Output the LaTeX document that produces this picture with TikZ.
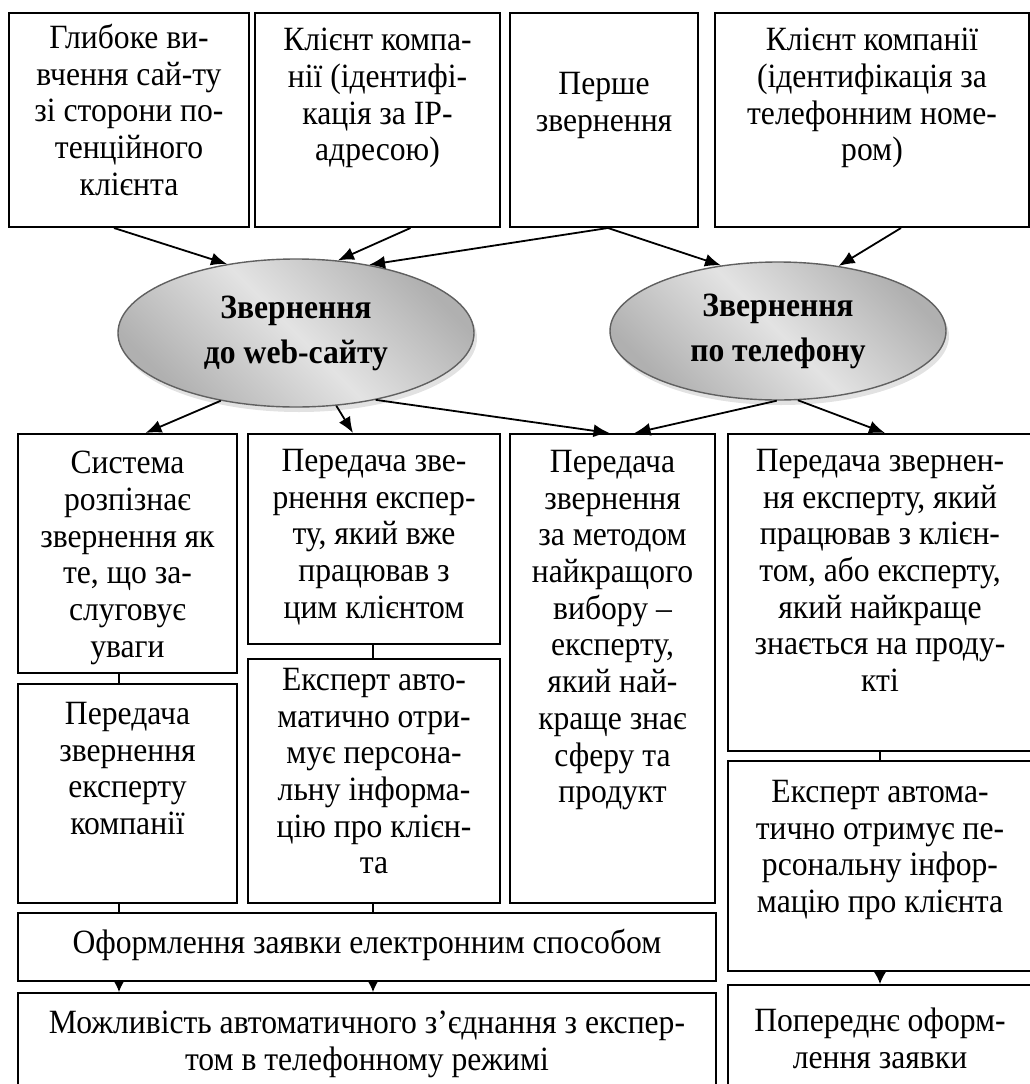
\documentclass[tikz,border=0pt]{standalone}
\usepackage{fontspec}
\setmainfont{Liberation Serif}[FakeStretch=0.93]
\usetikzlibrary{positioning,shapes.geometric,shadows,arrows.meta}

\tikzset{
  blok/.style={draw, line width=2pt, anchor=north west, inner sep=0pt},
  napys/.style={align=center, anchor=north, inner sep=0pt,
    font=\fontsize{34}{36.7}\selectfont, execute at begin node=\strut},
  zvern/.style={ellipse, draw=gray!75!black, line width=1.4pt, inner sep=0pt,
    align=center, font=\bfseries\fontsize{34}{45}\selectfont,
    top color=gray!62, bottom color=gray!62, middle color=gray!22, shading angle=-45,
    drop shadow={shadow xshift=3pt, shadow yshift=-5pt, fill=gray!45}},
  strilka/.style={line width=1.8pt, -{Latex[length=16pt, width=13pt]}},
  strilka mala/.style={line width=1.4pt, -{Latex[length=12pt, width=12pt]}},
  liniya/.style={line width=1.4pt}
}

\begin{document}
\begin{tikzpicture}[x=1pt, y=-1pt]
\useasboundingbox (0,0) rectangle (1030,1084);

% верхній ряд
\node[blok, minimum width=240pt, minimum height=214pt] (v1) at (8,12) {};
\node[blok, minimum width=245pt, minimum height=214pt] (v2) at (254,12) {};
\node[blok, minimum width=188pt, minimum height=214pt] (v3) at (509,12) {};
\node[blok, minimum width=314pt, minimum height=214pt] (v4) at (714,12) {};
\node[napys, below=12pt of v1.north] (v1t) {Глибоке ви-\\вчення сай-ту\\зі сторони по-\\тенційного\\клієнта};
\node[napys, below=16pt of v2.north] (v2t) {Клієнт компа-\\нії (ідентифі-\\кація за IP-\\адресою)};
\node[napys, below=60pt of v3.north] (v3t) {Перше\\звернення};
\node[napys, below=16pt of v4.north] (v4t) {Клієнт компанії\\(ідентифікація за\\телефонним номе-\\ром)};

% звернення
\node[zvern, minimum width=356pt, minimum height=148pt] (web) at (296,333) {Звернення\\до web-сайту};
\node[zvern, minimum width=336pt, minimum height=138pt] (tel) at (778,331) {Звернення\\по телефону};

% другий ряд
\node[blok, minimum width=219pt, minimum height=239pt] (s1) at (17,433) {};
\node[blok, minimum width=252pt, minimum height=210pt] (s2) at (247,433) {};
\node[blok, minimum width=205pt, minimum height=469pt] (s3) at (509,433) {};
\node[blok, minimum width=304pt, minimum height=317pt] (s4) at (727,433) {};
\node[napys, below=18pt of s1.north] (s1t) {Система\\розпізнає\\звернення як\\те, що за-\\слуговує\\уваги};
\node[napys, below=16pt of s2.north] (s2t) {Передача зве-\\рнення експер-\\ту, який вже\\працював з\\цим клієнтом};
\node[napys, below=17pt of s3.north] (s3t) {Передача\\звернення\\за методом\\найкращого\\вибору –\\експерту,\\який най-\\краще знає\\сферу та\\продукт};
\node[napys, below=16pt of s4.north] (s4t) {Передача звернен-\\ня експерту, який\\працював з клієн-\\том, або експерту,\\який найкраще\\знається на проду-\\кті};

% третій ряд
\node[blok, minimum width=219pt, minimum height=219pt] (e1) at (17,683) {};
\node[blok, minimum width=252pt, minimum height=244pt] (e2) at (247,658) {};
\node[blok, minimum width=304pt, minimum height=210pt] (e4) at (727,760) {};
\node[napys, below=19pt of e1.north] (e1t) {Передача\\звернення\\експерту\\компанії};
\node[napys, below=10pt of e2.north] (e2t) {Експерт авто-\\матично отри-\\мує персона-\\льну інформа-\\цію про клієн-\\та};
\node[napys, below=20pt of e4.north] (e4t) {Експерт автома-\\тично отримує пе-\\рсональну інфор-\\мацію про клієнта};

% заявки
\node[blok, minimum width=698pt, minimum height=68pt] (z1) at (17,912) {};
\node[blok, minimum width=698pt, minimum height=110pt] (z2) at (17,992) {};
\node[blok, minimum width=304pt, minimum height=118pt] (z3) at (727,984) {};
\node[napys, below=16pt of z1.north] (z1t) {Оформлення заявки електронним способом};
\node[napys, below=19pt of z2.north] (z2t) {Можливість автоматичного з’єднання з експер-\\том в телефонному режимі};
\node[napys, below=24pt of z3.north] (z3t) {Попереднє оформ-\\лення заявки};

% стрілки до звернень
\draw[strilka] ([xshift=-15pt]v1.south) -- (web.135);
\draw[strilka] ([xshift=33pt]v2.south) -- (web.60);
\draw[strilka] ([xshift=4pt]v3.south) -- (web.43);
\draw[strilka] ([xshift=4pt]v3.south) -- (tel.131);
\draw[strilka] ([xshift=29pt]v4.south) -- (tel.47);

% стрілки від звернень
\draw[strilka] (web.222) -- ([xshift=18pt]s1.north);
\draw[strilka] (web.299) -- ([xshift=-21pt]s2.north);
\draw[strilka] (web.320) -- ([xshift=-3pt]s3.north);
\draw[strilka] (tel.269) -- ([xshift=22pt]s3.north);
\draw[strilka] (tel.286) -- ([xshift=5pt]s4.north);

% вертикальні з'єднання
\coordinate (k1) at (119,0);
\coordinate (k2) at (373,0);
\coordinate (k4) at (880,0);
\draw[liniya] (s1.south -| k1) -- (e1.north -| k1);
\draw[liniya] (s2.south -| k2) -- (e2.north -| k2);
\draw[liniya] (s4.south -| k4) -- (e4.north -| k4);
\draw[liniya] (e1.south -| k1) -- (z1.north -| k1);
\draw[liniya] (e2.south -| k2) -- (z1.north -| k2);
\draw[strilka mala] (z1.south -| k1) -- (z2.north -| k1);
\draw[strilka mala] (z1.south -| k2) -- (z2.north -| k2);
\draw[strilka mala] (e4.south -| k4) -- (z3.north -| k4);
\end{tikzpicture}
\end{document}
